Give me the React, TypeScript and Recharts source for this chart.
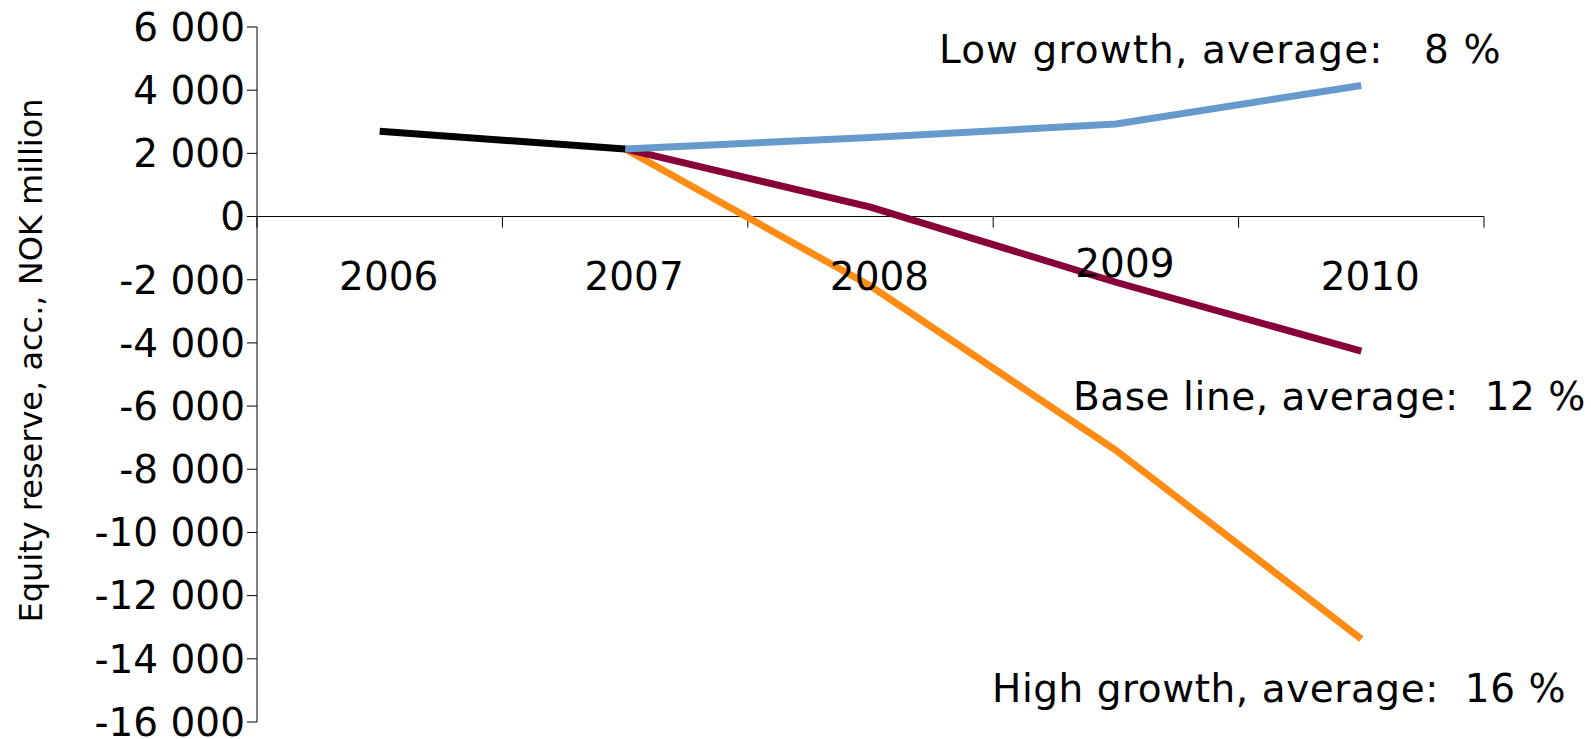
import { LineChart, Line, XAxis, YAxis, ReferenceLine, ReferenceDot } from "recharts";

const FONT = "DejaVu Sans";

// scenario years and the accumulated equity reserve (NOK million)
const years = [2006, 2007, 2008, 2009, 2010];
const yearLabels = ["2006", "2007", "2008", "2009", "2010"];
const history = [2700, 2140, null, null, null];
const lowGrowth = [null, 2140, 2500, 2930, 4150];
const baseLine = [null, 2140, 300, -2080, -4260];
const highGrowth = [null, 2140, -2200, -7400, -13370];

const yTicks = [6000, 4000, 2000, 0, -2000, -4000, -6000, -8000, -10000, -12000, -14000, -16000];

const annotations = [
    { text: "Low growth, average:   8 %", x: 939, y: 63, spacing: 1.1 },
    { text: "Base line, average:  12 %", x: 1073, y: 410, spacing: 0.55 },
    { text: "High growth, average:  16 %", x: 992, y: 702, spacing: 0.55 }
];

const data = years.map((year, i) => ({
    year,
    history: history[i],
    low: lowGrowth[i],
    base: baseLine[i],
    high: highGrowth[i]
}));

const bounds = [years[0] - 0.5, ...years.map((y) => y + 0.5)];

function fmt(v: number) {
    const s = Math.abs(v).toString().replace(/\B(?=(\d{3})+(?!\d))/g, " ");
    return v < 0 ? "-" + s : s;
}

function yTitle(props: any) {
    const vb = props.viewBox;
    const x = vb.x + 42;
    const y = vb.y + vb.height / 2 - 14;
    return (
        <text x={x} y={y} transform={`rotate(-90 ${x} ${y})`} textAnchor="middle"
            fontSize={32} fontFamily={FONT} fill="#000">
            Equity reserve, acc., NOK million
        </text>
    );
}

function yearLabel(label: string) {
    return (props: any) => {
        const vb = props.viewBox;
        const lift = label === "2009" ? 13 : 0;
        return (
            <text x={vb.x + 9} y={vb.y + 73 - lift} textAnchor="middle"
                fontSize={39} fontFamily={FONT} fill="#000">
                {label}
            </text>
        );
    };
}

export default function App() {
    return (
        <div style={{ position: "absolute", left: 0, top: 0, width: 1591, height: 739, background: "#fff" }}>
            <LineChart width={1591} height={739} data={data}
                margin={{ top: 27, right: 107, bottom: 17, left: 0 }}>
                <XAxis type="number" dataKey="year" domain={[2005.5, 2010.5]} hide />
                <YAxis type="number" domain={[-16000, 6000]} ticks={yTicks} interval={0}
                    width={257} tickSize={10}
                    axisLine={{ stroke: "#000" }} tickLine={{ stroke: "#000" }}
                    tick={{ fill: "#000", fontSize: 39, fontFamily: FONT }}
                    tickFormatter={fmt} label={yTitle} />
                <ReferenceLine y={0} stroke="#000" />
                {bounds.map((b) => (
                    <ReferenceLine key={b} segment={[{ x: b, y: 0 }, { x: b, y: -350 }]} stroke="#000" />
                ))}
                {years.map((yr, i) => (
                    <ReferenceDot key={yr} x={yr} y={0} r={0} fill="none" stroke="none"
                        label={yearLabel(yearLabels[i])} />
                ))}
                <Line dataKey="high" stroke="#FF8C14" strokeWidth={7} dot={false} activeDot={false} isAnimationActive={false} />
                <Line dataKey="base" stroke="#880038" strokeWidth={7} dot={false} activeDot={false} isAnimationActive={false} />
                <Line dataKey="low" stroke="#6699CC" strokeWidth={7} dot={false} activeDot={false} isAnimationActive={false} />
                <Line dataKey="history" stroke="#000" strokeWidth={7} dot={false} activeDot={false} isAnimationActive={false} />
            </LineChart>
            <svg width={1591} height={739} style={{ position: "absolute", left: 0, top: 0, pointerEvents: "none" }}>
                {annotations.map((a) => (
                    <text key={a.text} x={a.x} y={a.y} fontSize={39} fontFamily={FONT} fill="#000"
                        letterSpacing={a.spacing} style={{ whiteSpace: "pre" }}>
                        {a.text}
                    </text>
                ))}
            </svg>
        </div>
    );
}
